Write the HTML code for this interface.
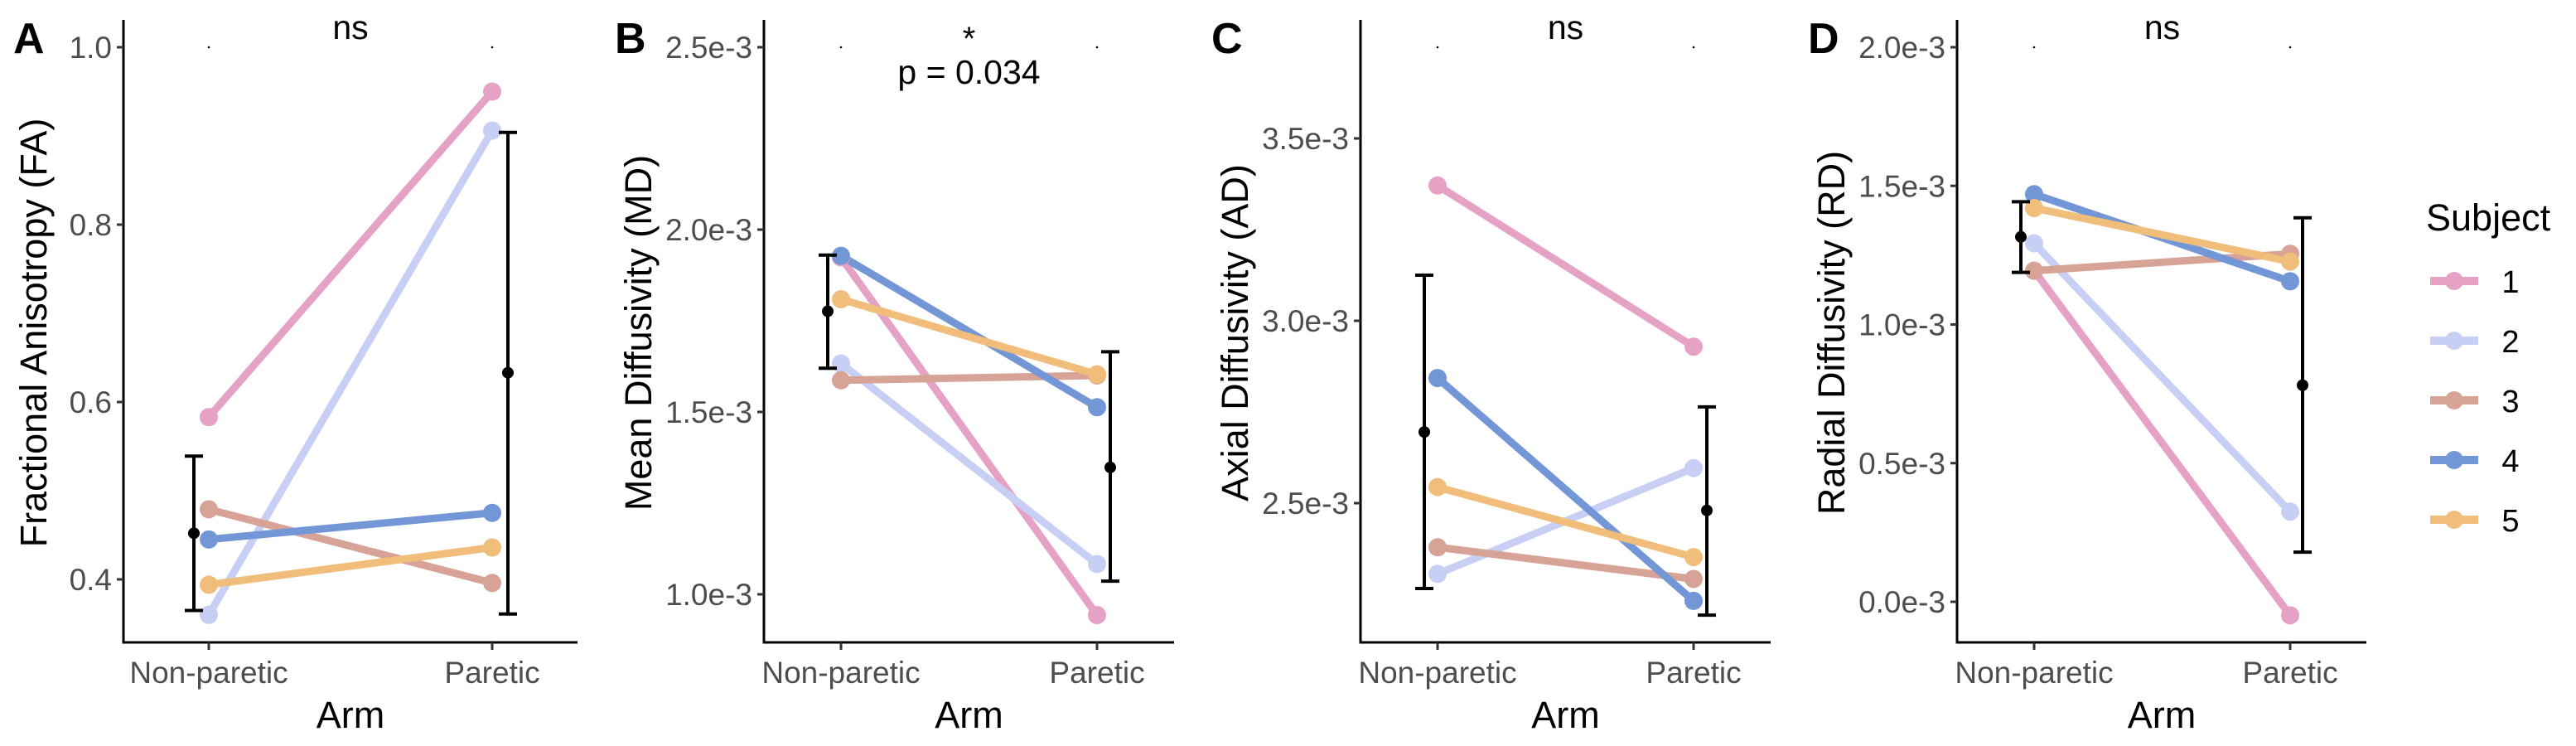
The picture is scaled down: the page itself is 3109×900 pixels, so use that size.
<!DOCTYPE html>
<html><head><meta charset="utf-8">
<style>
html,body{margin:0;padding:0;background:#fff;}
svg{display:block;font-family:"Liberation Sans",Arial,sans-serif;}
</style></head>
<body>
<svg id="chart" width="3109" height="900" viewBox="0 0 3109 900" xmlns="http://www.w3.org/2000/svg"></svg>
<script>
const categories = ["Non-paretic", "Paretic"];
const subjects = ["1", "2", "3", "4", "5"];
const colors = ["#E5A2C5", "#C8CFF5", "#D7A397", "#7296D6", "#F1BD7A"];
const panelLetters = ["A", "B", "C", "D"];
const panelTitles = ["Fractional Anisotropy (FA)", "Mean Diffusivity (MD)", "Axial Diffusivity (AD)", "Radial Diffusivity (RD)"];
const annotations = ["ns", "*", "ns", "ns"];
const pValues = ["", "p = 0.034", "", ""];
// subject values [nonparetic, paretic]
const faValues = [[0.583, 0.950], [0.360, 0.906], [0.479, 0.396], [0.445, 0.475], [0.394, 0.436]];
const mdValues = [[1.924, 0.943], [1.633, 1.083], [1.587, 1.600], [1.928, 1.513], [1.809, 1.603]];
const adValues = [[3.371, 2.929], [2.306, 2.596], [2.379, 2.292], [2.843, 2.232], [2.544, 2.352]];
const rdValues = [[1.194, -0.049], [1.293, 0.325], [1.194, 1.255], [1.470, 1.156], [1.420, 1.227]];
// summary [mean, low, high] per arm
const faSummary = [[0.452, 0.365, 0.539], [0.633, 0.361, 0.904]];
const mdSummary = [[1.776, 1.620, 1.930], [1.348, 1.036, 1.665]];
const adSummary = [[2.695, 2.266, 3.125], [2.480, 2.193, 2.764]];
const rdSummary = [[1.316, 1.188, 1.443], [0.781, 0.179, 1.385]];
const faTicks = [0.4, 0.6, 0.8, 1.0];
const mdTicks = [1.0, 1.5, 2.0, 2.5];
const adTicks = [2.5, 3.0, 3.5];
const rdTicks = [0.0, 0.5, 1.0, 1.5, 2.0];
const faTickLabels = ["0.4", "0.6", "0.8", "1.0"];
const mdTickLabels = ["1.0e-3", "1.5e-3", "2.0e-3", "2.5e-3"];
const adTickLabels = ["2.5e-3", "3.0e-3", "3.5e-3"];
const rdTickLabels = ["0.0e-3", "0.5e-3", "1.0e-3", "1.5e-3", "2.0e-3"];
const annotationLevel = [1.0, 2.5, 3.75, 2.0];

const NS = "http://www.w3.org/2000/svg";
const svg = document.getElementById("chart");
function mk(tag, attrs, parent, text) {
  const e = document.createElementNS(NS, tag);
  for (const k in attrs) e.setAttribute(k, attrs[k]);
  if (text !== undefined) e.textContent = text;
  (parent || svg).appendChild(e);
  return e;
}

const panels = [
  {ax: 149, right: 697, x0: 252, x1: 594, ex0: 234, ex1: 613, v0: 0.4, p0: 699, v1: 1.0, p1: 57, letterX: 16, titleX: 40, vals: faValues, sum: faSummary, ticks: faTicks, tl: faTickLabels},
  {ax: 922, right: 1417, x0: 1015, x1: 1324, ex0: 999, ex1: 1340, v0: 1.0, p0: 717, v1: 2.5, p1: 57, letterX: 742, titleX: 770, vals: mdValues, sum: mdSummary, ticks: mdTicks, tl: mdTickLabels},
  {ax: 1642, right: 2137, x0: 1735, x1: 2044, ex0: 1719, ex1: 2060, v0: 2.5, p0: 607, v1: 3.5, p1: 167, letterX: 1462, titleX: 1490, vals: adValues, sum: adSummary, ticks: adTicks, tl: adTickLabels},
  {ax: 2362, right: 2856, x0: 2455, x1: 2764, ex0: 2439, ex1: 2779, v0: 0.0, p0: 726, v1: 2.0, p1: 57, letterX: 2182, titleX: 2210, vals: rdValues, sum: rdSummary, ticks: rdTicks, tl: rdTickLabels}
];
const TOP = 24, BOTTOM = 775;

panels.forEach((p, i) => {
  const g = mk("g", {});
  
  
  const y = v => p.p0 + (v - p.v0) / (p.v1 - p.v0) * (p.p1 - p.p0);
  const xs = [p.x0, p.x1];

  const letter = mk("text", {x: p.letterX, y: 64, "font-size": 52, "font-weight": "bold", fill: "#000"}, g, panelLetters[i]);
  
  

  const yAxis = mk("line", {x1: p.ax, y1: TOP, x2: p.ax, y2: BOTTOM + 1.5, stroke: "#000", "stroke-width": 3}, g);
  
  
  const xAxis = mk("line", {x1: p.ax - 1.5, y1: BOTTOM, x2: p.right, y2: BOTTOM, stroke: "#000", "stroke-width": 3}, g);
  
  

  p.ticks.forEach((t, k) => {
    const yy = y(t);
    mk("line", {x1: p.ax - 8, y1: yy, x2: p.ax, y2: yy, stroke: "#333", "stroke-width": 3}, g);
    const lab = mk("text", {x: p.ax - 14, y: yy + 13, "font-size": 37, fill: "#4D4D4D", "text-anchor": "end"}, g, p.tl[k]);
    
    
  });
  categories.forEach((c, k) => {
    mk("line", {x1: xs[k], y1: BOTTOM, x2: xs[k], y2: BOTTOM + 9, stroke: "#333", "stroke-width": 3}, g);
    const lab = mk("text", {x: xs[k], y: 824, "font-size": 37, fill: "#4D4D4D", "text-anchor": "middle"}, g, c);
    
    
  });
  const xt = mk("text", {x: (p.ax + p.right) / 2, y: 878, "font-size": 45, fill: "#000", "text-anchor": "middle"}, g, "Arm");
  
  
  const yt = mk("text", {x: 0, y: 0, "font-size": 45, fill: "#000", "text-anchor": "middle", transform: `translate(${p.titleX + 16},${(TOP + BOTTOM) / 2 + 2}) rotate(-90)`}, g, panelTitles[i]);
  
  

  xs.forEach(xx => mk("circle", {cx: xx, cy: y(annotationLevel[i]), r: 1.3, fill: "#000"}, g));
  const mid = (p.x0 + p.x1) / 2;
  if (pValues[i]) {
    const star = mk("text", {x: mid, y: 60, "font-size": 40, fill: "#000", "text-anchor": "middle"}, g, annotations[i]);
    
    
    const pv = mk("text", {x: mid, y: 101, "font-size": 41, fill: "#000", "text-anchor": "middle"}, g, pValues[i]);
    
    
  } else {
    const ns = mk("text", {x: mid, y: 47, "font-size": 41, fill: "#000", "text-anchor": "middle"}, g, annotations[i]);
    
    
  }

  p.vals.forEach((v, s) => {
    const ln = mk("line", {x1: xs[0], y1: y(v[0]), x2: xs[1], y2: y(v[1]), stroke: colors[s], "stroke-width": 9}, g);
    
    
  });
  p.vals.forEach((v, s) => {
    v.forEach((val, k) => {
      const c = mk("circle", {cx: xs[k], cy: y(val), r: 11, fill: colors[s]}, g);
      
      
    });
  });
  const exs = [p.ex0, p.ex1];
  p.sum.forEach((sv, k) => {
    const ex = exs[k];
    const eg = mk("g", {stroke: "#000", "stroke-width": 4}, g);
    
    
    mk("line", {x1: ex, y1: y(sv[1]), x2: ex, y2: y(sv[2])}, eg);
    mk("line", {x1: ex - 11, y1: y(sv[1]), x2: ex + 11, y2: y(sv[1])}, eg);
    mk("line", {x1: ex - 11, y1: y(sv[2]), x2: ex + 11, y2: y(sv[2])}, eg);
    const m = mk("circle", {cx: ex, cy: y(sv[0]), r: 7, fill: "#000"}, g);
    
    
  });
});

const lg = mk("g", {});


const lt = mk("text", {x: 2928, y: 278, "font-size": 45, fill: "#000"}, lg, "Subject");


subjects.forEach((s, k) => {
  const yy = 339 + k * 72;
  const e = mk("g", {}, lg);
  
  
  mk("line", {x1: 2933, y1: yy, x2: 2991, y2: yy, stroke: colors[k], "stroke-width": 10}, e);
  mk("circle", {cx: 2962, cy: yy, r: 11, fill: colors[k]}, e);
  mk("text", {x: 3030, y: yy + 14, "font-size": 38, fill: "#000", "text-anchor": "middle"}, e, s);
});
</script>
</body></html>
